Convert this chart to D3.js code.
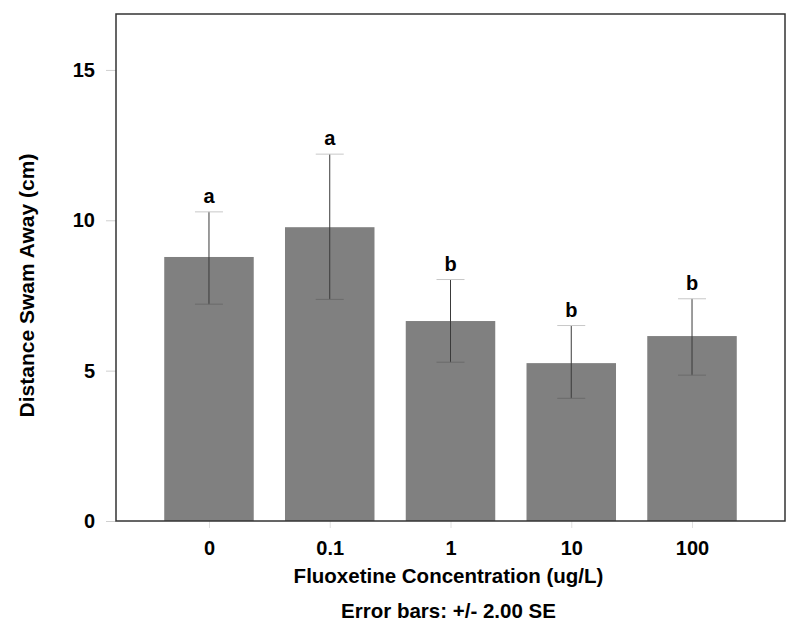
<!DOCTYPE html>
<html>
<head>
<meta charset="utf-8">
<script src="https://cdn.jsdelivr.net/npm/d3@7"></script>
<style>
  body { margin: 0; background: #fff; }
  text { font-family: Arial, "Liberation Sans", sans-serif; font-weight: bold; fill: #000; }
</style>
</head>
<body>
<div id="chart"></div>
<script>
const categories = ["0", "0.1", "1", "10", "100"];
const means = [8.78, 9.77, 6.65, 5.25, 6.15];
const upper = [10.28, 12.2, 8.03, 6.5, 7.39];
const lower = [7.21, 7.37, 5.28, 4.08, 4.85];
const letters = ["a", "a", "b", "b", "b"];
const yTicks = [0, 5, 10, 15];

const W = 800, H = 635;
const margin = { top: 14, right: 15, bottom: 114, left: 116 };
const width = W - margin.left - margin.right;
const height = H - margin.top - margin.bottom;

const svg = d3.select("#chart")
  .append("svg")
  .attr("width", W)
  .attr("height", H)
  .append("g")
  .attr("transform", `translate(${margin.left},${margin.top})`);

const x = d3.scaleLinear()
  .domain([-0.77, categories.length - 1 + 0.77])
  .range([0, width]);

const y = d3.scaleLinear()
  .domain([0, 16.86])
  .range([height, 0]);

const barW = 89.5;

// bars
svg.selectAll(".bar")
  .data(means)
  .enter()
  .append("rect")
  .attr("class", "bar")
  .attr("x", (d, i) => x(i) - barW / 2)
  .attr("y", d => y(d))
  .attr("width", barW)
  .attr("height", d => height - y(d))
  .attr("fill", "#808080");

// error bars
const err = svg.selectAll(".err")
  .data(means)
  .enter()
  .append("g")
  .attr("class", "err");

err.append("line")
  .attr("x1", (d, i) => x(i))
  .attr("x2", (d, i) => x(i))
  .attr("y1", (d, i) => y(upper[i]))
  .attr("y2", (d, i) => y(lower[i]))
  .attr("stroke", "#3a3a3a")
  .attr("stroke-width", 1);

err.append("line")
  .attr("x1", (d, i) => x(i) - 14)
  .attr("x2", (d, i) => x(i) + 14)
  .attr("y1", (d, i) => y(upper[i]))
  .attr("y2", (d, i) => y(upper[i]))
  .attr("stroke", "#c8c8c8");

err.append("line")
  .attr("x1", (d, i) => x(i) - 14)
  .attr("x2", (d, i) => x(i) + 14)
  .attr("y1", (d, i) => y(lower[i]))
  .attr("y2", (d, i) => y(lower[i]))
  .attr("stroke", "#6a6a6a");

// group letters
svg.selectAll(".letter")
  .data(letters)
  .enter()
  .append("text")
  .attr("class", "letter")
  .attr("x", (d, i) => x(i))
  .attr("y", (d, i) => y(upper[i]) - 9)
  .attr("text-anchor", "middle")
  .style("font-size", "20px")
  .text(d => d);

// axes
const yAxis = svg.append("g")
  .call(d3.axisLeft(y).tickValues(yTicks).tickSize(10).tickPadding(11));
yAxis.select(".domain").remove();
yAxis.selectAll("line").attr("stroke", "#d0d0d0");
yAxis.selectAll("text").style("font-size", "20px").attr("fill", "#000");

const xAxis = svg.append("g")
  .attr("transform", `translate(0,${height})`)
  .call(d3.axisBottom(x).tickValues(d3.range(categories.length)).tickFormat(i => categories[i]).tickSize(7).tickPadding(13));
xAxis.select(".domain").remove();
xAxis.selectAll("line").attr("stroke", "#e0e0e0");
xAxis.selectAll("text").style("font-size", "20px").attr("fill", "#000");

// frame
svg.append("rect")
  .attr("x", 0)
  .attr("y", 0)
  .attr("width", width)
  .attr("height", height)
  .attr("fill", "none")
  .attr("stroke", "#333")
  .attr("stroke-width", 1.5);

// titles
svg.append("text")
  .attr("x", width / 2 - 2)
  .attr("y", height + 62)
  .attr("text-anchor", "middle")
  .style("font-size", "20.5px")
  .text("Fluoxetine Concentration (ug/L)");

svg.append("text")
  .attr("x", width / 2 - 2)
  .attr("y", height + 97)
  .attr("text-anchor", "middle")
  .style("font-size", "20.5px")
  .text("Error bars: +/- 2.00 SE");

svg.append("text")
  .attr("transform", "rotate(-90)")
  .attr("x", -height / 2 - 18)
  .attr("y", -margin.left + 34)
  .attr("text-anchor", "middle")
  .style("font-size", "21px")
  .text("Distance Swam Away (cm)");
</script>
</body>
</html>
